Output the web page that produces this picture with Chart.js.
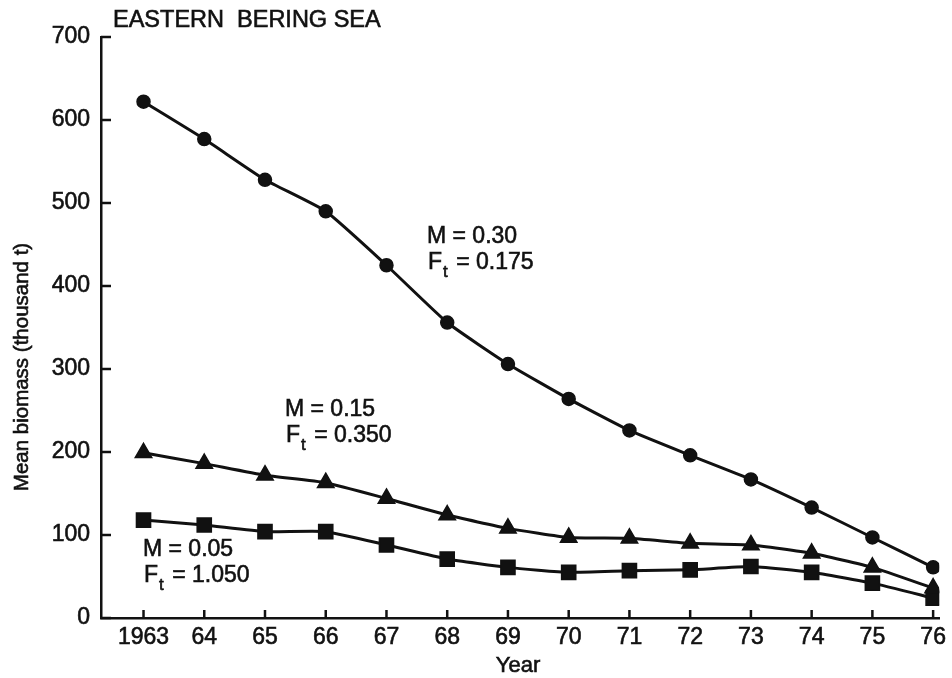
<!DOCTYPE html>
<html lang="en">
<head>
    <meta charset="UTF-8">
    <script src="https://cdn.jsdelivr.net/npm/chart.js"></script>
    <title>Eastern Bering Sea - mean biomass</title>
    <style>
        html, body { margin: 0; padding: 0; background: #fff; }
        .wrap { width: 952px; height: 678px; }
    </style>
</head>
<body>
    <div class="wrap">
        <canvas id="biomassChart" width="952" height="678"></canvas>
    </div>

    <script>
        // years and tick labels
        const years = [1963, 1964, 1965, 1966, 1967, 1968, 1969, 1970, 1971, 1972, 1973, 1974, 1975, 1976];
        const yearLabels = ['1963', '64', '65', '66', '67', '68', '69', '70', '71', '72', '73', '74', '75', '76'];

        // mean biomass (thousand t)
        const biomassM030 = [622, 577, 528, 490, 425, 356, 306, 264, 226, 196, 167, 133, 97, 61];
        const biomassM015 = [199, 186, 172, 163, 144, 124, 108, 97, 96, 90, 88, 78, 61, 36];
        const biomassM005 = [118, 112, 104, 104, 88, 71, 61, 55, 57, 58, 62, 55, 42, 24];

        const yTicks = [0, 100, 200, 300, 400, 500, 600, 700];

        const font = "'Liberation Sans', Arial, Helvetica, sans-serif";
        const ink = '#111';

        function points(vals) {
            return years.map((yr, i) => ({ x: yr, y: vals[i] }));
        }

        // text with a thin outline so it reads as heavy as the scan
        function heavyText(ctx, s, x, y) {
            ctx.fillText(s, x, y);
            ctx.strokeText(s, x, y);
        }

        // axis ticks pointing inward, titles and the M / Ft labels
        const extras = {
            id: 'extras',
            afterDraw(chart) {
                const ctx = chart.ctx;
                const xs = chart.scales.x;
                const ys = chart.scales.y;
                const area = chart.chartArea;
                ctx.save();
                ctx.strokeStyle = ink;
                ctx.lineWidth = 2.5;
                yTicks.forEach(v => {
                    const py = ys.getPixelForValue(v);
                    ctx.beginPath();
                    ctx.moveTo(area.left, py);
                    ctx.lineTo(area.left + 10, py);
                    ctx.stroke();
                });
                years.forEach(v => {
                    const px = xs.getPixelForValue(v);
                    ctx.beginPath();
                    ctx.moveTo(px, area.bottom);
                    ctx.lineTo(px, area.bottom - 8);
                    ctx.stroke();
                });

                ctx.fillStyle = ink;
                ctx.lineWidth = 0.6;
                ctx.textBaseline = 'middle';

                // header
                ctx.font = '23.5px ' + font;
                ctx.textAlign = 'left';
                heavyText(ctx, 'EASTERN  BERING SEA', 113, 21);

                // y title
                ctx.save();
                ctx.translate(22, 367);
                ctx.rotate(-Math.PI / 2);
                ctx.textAlign = 'center';
                ctx.font = '20.5px ' + font;
                heavyText(ctx, 'Mean biomass (thousand t)', 0, 0);
                ctx.restore();

                // x title
                ctx.textAlign = 'center';
                ctx.font = '22px ' + font;
                heavyText(ctx, 'Year', 518, 666);

                // curve labels
                ctx.textAlign = 'left';
                function label(m, ft, x, y) {
                    ctx.font = '23px ' + font;
                    heavyText(ctx, 'M = ' + m, x, y);
                    heavyText(ctx, 'F', x + 1, y + 26);
                    const fw = ctx.measureText('F').width;
                    ctx.font = '17px ' + font;
                    heavyText(ctx, 't', x + 2 + fw, y + 35);
                    const tw = ctx.measureText('t').width;
                    ctx.font = '23px ' + font;
                    heavyText(ctx, ' = ' + ft, x + 4 + fw + tw, y + 26);
                }
                label('0.30', '0.175', 427, 237);
                label('0.15', '0.350', 285, 410);
                label('0.05', '1.050', 143, 550);
                ctx.restore();
            }
        };

        const ctx = document.getElementById('biomassChart').getContext('2d');

        const config = {
            type: 'line',
            data: {
                datasets: [
                    {
                        label: 'M = 0.30',
                        data: points(biomassM030),
                        pointStyle: 'circle',
                        pointRadius: 6.5
                    },
                    {
                        label: 'M = 0.15',
                        data: points(biomassM015),
                        pointStyle: 'triangle',
                        pointRadius: 9.5
                    },
                    {
                        label: 'M = 0.05',
                        data: points(biomassM005),
                        pointStyle: 'rect',
                        pointRadius: 10
                    }
                ]
            },
            options: {
                responsive: false,
                animation: false,
                layout: {
                    padding: { left: 0, top: 37, right: 7, bottom: 0 }
                },
                elements: {
                    line: { borderColor: ink, borderWidth: 3, tension: 0.15, fill: false },
                    point: { backgroundColor: ink, borderColor: ink, borderWidth: 1.5 }
                },
                plugins: {
                    legend: { display: false },
                    tooltip: { enabled: false }
                },
                scales: {
                    x: {
                        type: 'linear',
                        min: 1962.3,
                        max: 1976.1,
                        afterBuildTicks: s => { s.ticks = years.map(v => ({ value: v })); },
                        afterFit: s => { s.height = 60; },
                        grid: { display: false, drawTicks: false },
                        border: { display: true, color: ink, width: 2.5 },
                        ticks: {
                            padding: 6,
                            color: ink,
                            textStrokeColor: ink,
                            textStrokeWidth: 0.6,
                            font: { family: font, size: 23 },
                            maxRotation: 0,
                            autoSkip: false,
                            callback: v => yearLabels[years.indexOf(v)]
                        }
                    },
                    y: {
                        min: 0,
                        max: 700,
                        afterBuildTicks: s => { s.ticks = yTicks.map(v => ({ value: v })); },
                        afterFit: s => { s.width = 101; },
                        grid: { display: false, drawTicks: false },
                        border: { display: true, color: ink, width: 2.5 },
                        ticks: {
                            padding: 11,
                            color: ink,
                            textStrokeColor: ink,
                            textStrokeWidth: 0.6,
                            font: { family: font, size: 23 }
                        }
                    }
                }
            },
            plugins: [extras]
        };

        const biomassChart = new Chart(ctx, config);
    </script>
</body>
</html>
